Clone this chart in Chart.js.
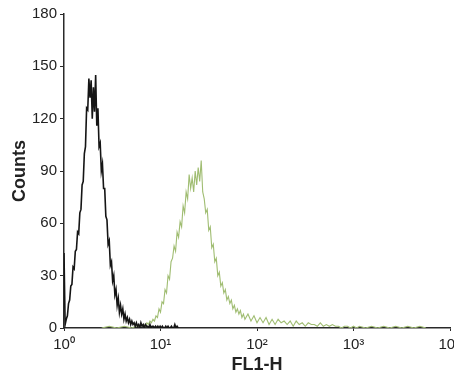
<!DOCTYPE html>
<html><head><meta charset="utf-8">
<script src="https://cdn.jsdelivr.net/npm/chart.js@4"></script>
<style>html,body{margin:0;padding:0;background:#fff;overflow:hidden}</style>
</head><body>
<canvas id="c" width="454" height="380"></canvas>
<script>
// x axis: channel (0..1024 over 4 log decades)
const tickChannels = [0, 256, 512, 768, 1024];
const tickLabels = ['10⁰', '10¹', '10²', '10³', '10⁴'];
const yTickValues = [0, 30, 60, 90, 120, 150, 180];

const blackChannels = [0,3,6,9,12,15,18,21,24,27,30,33,36,39,42,45,48,51,54,57,60,63,66,69,72,75,78,81,84,87,90,93,96,99,102,105,108,111,114,117,120,123,126,129,132,135,138,141,144,147,150,153,156,159,162,165,168,171,174,177,180,183,186,189,192,195,198,201,204,207,210,213,216,219,222,225,228,231,234,237,240,243,246,249,252,255,258,261,264,267,270,273,276,279,282,285,288,291,294,297,300,303];
const blackCounts = [43,2,5,7,14,16,24,25,35,34,44,45,55,54,66,68,82,84,100,104,126,125,143,132,142,120,138,124,145,116,126,104,106,90,94,80,80,64,62,48,50,36,38,27,30,19,22,13,17,9,13,8,11,5,8,4,6,3,5,2,4,2,3,1,3,1,2,0,3,1,2,0,2,1,1,0,2,0,1,1,0,1,0,1,0,1,0,1,0,0,1,0,1,0,0,1,0,0,2,0,1,0];

const greenChannels = [100,120,140,160,180,190,
  200,204,208,212,216,220,224,228,232,236,240,244,248,252,256,260,264,268,272,276,280,284,288,292,296,300,304,308,312,316,320,324,328,332,336,340,344,348,352,356,360,364,368,372,376,380,384,388,392,396,400,404,408,412,416,420,424,428,432,436,440,444,448,452,456,460,464,468,472,476,480,
  488,496,504,512,520,528,536,544,552,560,568,576,584,592,600,608,616,624,632,640,648,656,664,672,680,688,696,704,712,720,728,736,744,752,760,768,776,784,
  800,816,832,848,864,880,896,912,928,944,960];
const greenCounts = [0,1,0,1,0,1,
  1,2,1,2,1,3,2,4,3,5,4,7,6,11,9,15,14,22,20,30,28,38,40,47,44,55,52,61,58,70,66,78,74,88,80,86,78,90,82,92,84,96,78,74,66,68,56,58,46,48,38,40,30,32,24,26,20,22,16,18,14,16,11,13,9,11,8,10,6,8,5,
  8,4,7,3,6,3,6,2,5,2,5,3,4,2,4,1,4,2,3,1,3,2,2,1,3,1,2,1,2,1,1,0,1,1,0,1,0,1,
  0,1,0,1,0,1,0,1,0,1,0];

const toPts = (xs, ys) => xs.map((x, i) => ({x: x, y: ys[i]}));

const tickFont = {family: "'Liberation Sans Narrow', 'Arial Narrow', 'Liberation Sans', sans-serif", size: 15};
const titleFont = {family: "'Liberation Sans', Arial, sans-serif", size: 18, weight: 'bold'};
const axisColor = '#2a2a2a';

new Chart(document.getElementById('c'), {
  type: 'line',
  data: {
    datasets: [
      {label: 'Control', data: toPts(blackChannels, blackCounts), borderColor: '#151515', borderWidth: 1.6, pointRadius: 0, tension: 0},
      {label: 'Stained', data: toPts(greenChannels, greenCounts), borderColor: '#a0bd72', borderWidth: 1.1, pointRadius: 0, tension: 0}
    ]
  },
  options: {
    responsive: false,
    animation: false,
    devicePixelRatio: 1,
    layout: {padding: {top: 14, right: 4, left: 0, bottom: 0}},
    plugins: {legend: {display: false}, tooltip: {enabled: false}},
    scales: {
      x: {
        type: 'linear', min: 0, max: 1024,
        afterBuildTicks: (s) => { s.ticks = tickChannels.map(v => ({value: v})); },
        afterFit: (s) => { s.height = 52; s.paddingRight = 0; s.paddingLeft = 0; },
        ticks: {color: '#222', font: tickFont, padding: 5, maxRotation: 0, autoSkip: false,
          callback: (v) => { const i = tickChannels.indexOf(v); return i >= 0 ? tickLabels[i] : ''; }},
        grid: {drawOnChartArea: false, drawTicks: true, tickLength: 3, color: axisColor, tickWidth: 1},
        border: {display: true, color: axisColor, width: 1.5},
        title: {display: true, text: 'FL1-H', color: '#222', font: titleFont, padding: {top: 0, bottom: 4}}
      },
      y: {
        min: 0, max: 180,
        afterBuildTicks: (s) => { s.ticks = yTickValues.map(v => ({value: v})); },
        afterFit: (s) => { s.width = 64; },
        ticks: {color: '#222', font: tickFont, padding: 3},
        grid: {drawOnChartArea: false, drawTicks: true, tickLength: 4, color: axisColor, tickWidth: 1},
        border: {display: true, color: axisColor, width: 1.5},
        title: {display: true, text: 'Counts', color: '#222', font: titleFont, padding: {top: 9, bottom: 0}}
      }
    }
  }
});
</script>
</body></html>
